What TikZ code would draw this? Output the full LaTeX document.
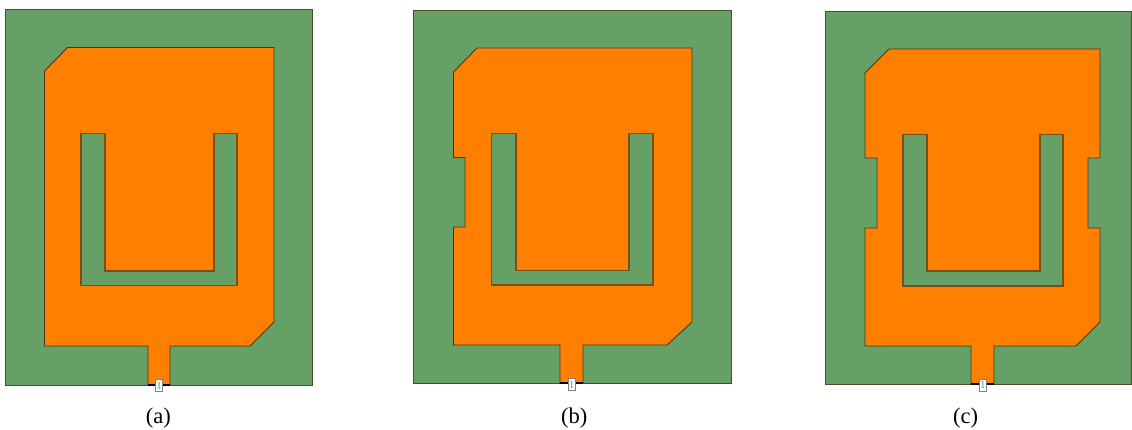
\documentclass[tikz,border=0pt]{standalone}
\usepackage{fontspec}
\setmainfont{Liberation Serif}
\definecolor{board}{HTML}{66A066}
\definecolor{patch}{HTML}{FF8000}
\definecolor{edgec}{HTML}{3E3A22}
\definecolor{portc}{HTML}{3FA8B8}
\tikzset{
  boardshape/.style={fill=board,draw=edgec!80!board,line width=0.9pt},
  patchshape/.style={fill=patch,draw=edgec,line width=0.9pt,line join=miter},
  slotshape/.style={fill=board,draw=edgec!70!patch,line width=1.1pt},
  feedline/.style={draw=black,line width=1.6pt},
  portbox/.style={draw=black!50,fill=white,line width=0.8pt,minimum width=7pt,minimum height=12pt,inner sep=0pt,text=portc,font=\fontsize{11}{11}\selectfont},
  caption/.style={font=\fontsize{22.5}{24}\selectfont,inner sep=0pt,text=black}
}
\begin{document}
\begin{tikzpicture}[x=1pt,y=-1pt]
\useasboundingbox (0,0) rectangle (1132,430);
% (a)
\draw[boardshape] (5.5,9) rectangle (312.5,385);
\draw[patchshape] (44.5,71) -- (67.5,47.5) -- (274,47.5) -- (274,322) -- (250,346) -- (170,346) -- (170,385) -- (148,385) -- (148,346) -- (44.5,346) -- cycle;
\draw[slotshape] (81,133.5) -- (105,133.5) -- (105,271) -- (214,271) -- (214,133.5) -- (237,133.5) -- (237,285.5) -- (81,285.5) -- cycle;
\coordinate (fa1) at (148,385); \coordinate (fa2) at (170,385);
\draw[feedline] (fa1) -- (fa2);
\node[portbox] (pa) at (159,385.5) {1};
\node[caption] (ca) at (158.3,418) {(a)};
% (b)
\draw[boardshape] (413.5,10) rectangle (731,383);
\draw[patchshape] (453.5,72) -- (477,48) -- (692,48) -- (692,322) -- (667,345) -- (583,345) -- (583,383) -- (560,383) -- (560,345) -- (453.5,345) -- (453.5,227) -- (465,227) -- (465,157.5) -- (453.5,157.5) -- cycle;
\draw[slotshape] (491.5,133.5) -- (516,133.5) -- (516,270.5) -- (629,270.5) -- (629,133.5) -- (653,133.5) -- (653,285) -- (491.5,285) -- cycle;
\coordinate (fb1) at (560,383); \coordinate (fb2) at (583,383);
\draw[feedline] (fb1) -- (fb2);
\node[portbox] (pb) at (571.7,384.5) {1};
\node[caption] (cb) at (574.3,418) {(b)};
% (c)
\draw[boardshape] (825.5,11) rectangle (1131.5,384);
\draw[patchshape] (865,73) -- (889,49) -- (1100,49) -- (1100,158) -- (1088,158) -- (1088,228) -- (1100,228) -- (1100,322) -- (1076,346) -- (994,346) -- (994,384) -- (971,384) -- (971,346) -- (865,346) -- (865,228) -- (877,228) -- (877,158) -- (865,158) -- cycle;
\draw[slotshape] (903,134.5) -- (927,134.5) -- (927,271) -- (1040,271) -- (1040,134.5) -- (1063,134.5) -- (1063,286) -- (903,286) -- cycle;
\coordinate (fc1) at (971,384); \coordinate (fc2) at (994,384);
\draw[feedline] (fc1) -- (fc2);
\node[portbox] (pc) at (982.8,385) {1};
\node[caption] (cc) at (965.5,418) {(c)};
\end{tikzpicture}
\end{document}
